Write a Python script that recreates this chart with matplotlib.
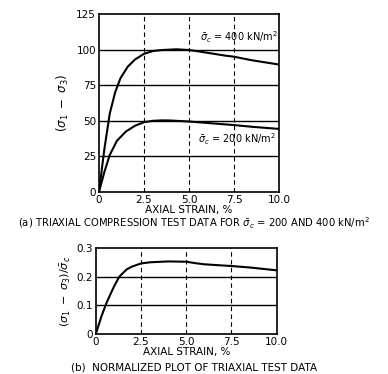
import numpy as np
import matplotlib
matplotlib.use("Agg")
import matplotlib.pyplot as plt

# values
strain_400 = [0, 0.3, 0.6, 0.9, 1.2, 1.6, 2.0, 2.5, 3.0, 3.5, 4.3, 5.0, 5.5, 6.0, 7.0, 7.5, 8.5, 10.0]
dev_400 = [0, 30, 55, 70, 80, 88, 93, 97, 99, 99.7, 100.2, 99.7, 98.8, 97.8, 95.8, 95, 92.5, 89.5]
strain_200 = [0, 0.3, 0.6, 1.0, 1.5, 2.0, 2.5, 3.0, 3.5, 4.0, 5.0, 6.0, 7.5, 8.5, 10.0]
dev_200 = [0, 14, 26, 36, 42.5, 46.5, 49, 50, 50.3, 50.2, 49.5, 48.5, 47, 45.8, 44.3]
strain_norm = [0, 0.3, 0.6, 1.0, 1.3, 1.7, 2.0, 2.5, 3.0, 4.0, 5.0, 5.5, 6.0, 7.0, 7.5, 8.5, 10.0]
norm = [0, 0.06, 0.11, 0.165, 0.2, 0.225, 0.235, 0.246, 0.25, 0.253, 0.252, 0.247, 0.243, 0.239, 0.237, 0.232, 0.222]

xticks = [0, 2.5, 5.0, 7.5, 10.0]
xticklabels = ["0", "2.5", "5.0", "7.5", "10.0"]
yticks_a = [0, 25, 50, 75, 100, 125]
yticks_b = [0, 0.1, 0.2, 0.3]
yticklabels_b = ["0", "0.1", "0.2", "0.3"]

plt.rcParams["font.family"] = "DejaVu Sans"
fs = 7.5

fig = plt.figure(figsize=(3.88, 3.74), dpi=100)
ax1 = fig.add_axes([0.255, 0.4866, 0.464, 0.476])
ax2 = fig.add_axes([0.247, 0.107, 0.466, 0.230])


def style(ax, yt, ytl):
    ax.set_xlim(0, 10)
    ax.set_xticks(xticks)
    ax.set_xticklabels(xticklabels)
    ax.set_yticks(yt)
    ax.set_yticklabels(ytl)
    ax.tick_params(length=0, labelsize=fs, pad=2)
    for y in yt[1:-1]:
        ax.axhline(y, color="black", lw=1.0)
    for x in xticks[1:-1]:
        ax.axvline(x, color="black", lw=0.8, ls=(0, (4, 3)))
    for s in ax.spines.values():
        s.set_linewidth(1.2)
    ax.set_xlabel("AXIAL STRAIN, %", fontsize=fs, labelpad=0)


ax1.plot(strain_400, dev_400, color="black", lw=1.5)
ax1.plot(strain_200, dev_200, color="black", lw=1.5)
ax1.set_ylim(0, 125)
style(ax1, yticks_a, [str(v) for v in yticks_a])
ax1.set_ylabel(r"$(\sigma_1\ -\ \sigma_3)$", fontsize=fs + 1, labelpad=4)
ax1.text(9.95, 108.5, r"$\bar{\sigma}_c$ = 400 kN/m$^2$", fontsize=fs - 0.5, ha="right", va="center")
ax1.text(9.8, 37, r"$\bar{\sigma}_c$ = 200 kN/m$^2$", fontsize=fs - 0.5, ha="right", va="center")

ax2.plot(strain_norm, norm, color="black", lw=1.5)
ax2.set_ylim(0, 0.3)
style(ax2, yticks_b, yticklabels_b)
ax2.set_ylabel(r"$(\sigma_1\ -\ \sigma_3)/\bar{\sigma}_c$", fontsize=fs + 0.5, labelpad=3)

fig.text(0.5, 1 - 223 / 374, r"(a) TRIAXIAL COMPRESSION TEST DATA FOR $\bar{\sigma}_c$ = 200 AND 400 kN/m$^2$",
         ha="center", va="center", fontsize=fs - 0.3)
fig.text(0.5, 1 - 368 / 374, "(b)  NORMALIZED PLOT OF TRIAXIAL TEST DATA",
         ha="center", va="center", fontsize=fs)

fig.savefig("out.png", dpi=100)
